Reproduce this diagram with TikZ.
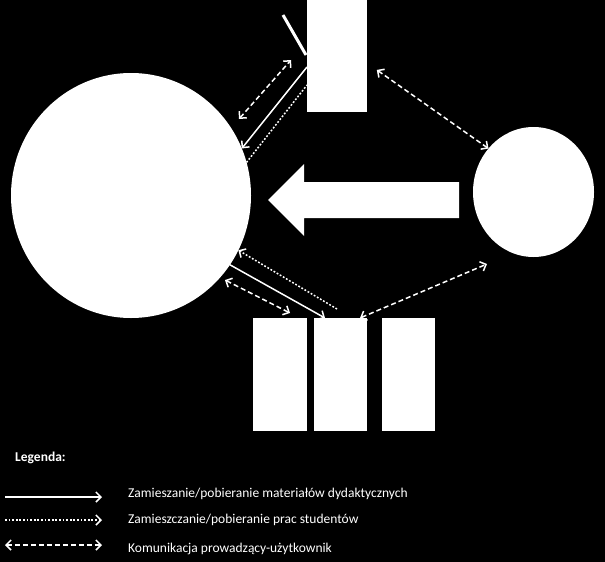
\documentclass[tikz,border=0pt]{standalone}
\usepackage{fontspec}
\setmainfont{Carlito}
\usetikzlibrary{arrows.meta,shapes.geometric}
\tikzstyle{blok} = [fill=white, draw=none, inner sep=0pt, outer sep=0pt]
\tikzstyle{upload} = [draw=white, line width=1.5pt, -{Straight Barb[length=5pt,width=10pt]}]
\tikzstyle{prace} = [upload, dash pattern=on 1.8pt off 1.8pt]
\tikzstyle{komunikacja} = [draw=white, line width=1.5pt, dash pattern=on 5pt off 3pt,
  {Straight Barb[length=5pt,width=10pt]}-{Straight Barb[length=5pt,width=10pt]}]
\tikzstyle{legtext} = [anchor=west, text=white, inner sep=0pt]
\tikzset{font={\fontsize{13.5}{16}\selectfont}}

\begin{document}
\begin{tikzpicture}[x=1pt, y=-1pt]
  \fill[black] (0,0) rectangle (605,562);

  \node[at={(131,195.5)}, blok, ellipse, minimum width=240pt, minimum height=245pt] (platforma) {};
  \node[at={(533.5,192)}, blok, ellipse, minimum width=121pt, minimum height=130pt] (uzytk) {};
  \node[at={(337,56)}, blok, minimum width=60pt, minimum height=112pt] (prowadzacy) {};
  \node[at={(280,374.5)}, blok, minimum width=54pt, minimum height=113pt] (zasob1) {};
  \node[at={(340.5,374.5)}, blok, minimum width=53pt, minimum height=113pt] (zasob2) {};
  \node[at={(408.5,374.5)}, blok, minimum width=53pt, minimum height=113pt] (zasob3) {};

  % duza strzalka
  \fill[white] (459,182) -- (304,182) -- (304,164) -- (268,200)
    -- (304,236) -- (304,218) -- (459,218) -- cycle;
  \draw[white, line width=3pt] (283,15) -- (306,55);

  \coordinate (k1) at (291,60);
  \coordinate (k2) at (239,119);
  \coordinate (k3) at (337,309);
  \coordinate (k4) at (225,280);
  \coordinate (k5) at (290,313);
  \coordinate (k6) at (487,264);

  \draw[komunikacja] (k2) -- (k1);
  \draw[upload] ([yshift=-11pt]prowadzacy.west) -- (platforma.23);
  \draw[prace, -] (platforma.16) -- ([yshift=-29pt]prowadzacy.west);
  \draw[komunikacja, shorten <=12pt] ([yshift=-7pt]prowadzacy.east) -- (uzytk.136);

  \draw[prace] (k3) -- (platforma.-27);
  \draw[upload] (platforma.-35) -- ([xshift=11pt]zasob2.north west);
  \draw[komunikacja] (k4) -- (k5);
  \draw[komunikacja] ([xshift=-7pt]zasob2.north east) -- (k6);

  % legenda
  \node[at={(15,458)}, legtext, font=\bfseries\fontsize{13.5}{16}\selectfont] (legenda) {Legenda:};
  \coordinate (l1a) at (5,497);  \coordinate (l1b) at (102,497);
  \coordinate (l2a) at (5,520);  \coordinate (l2b) at (102,520);
  \coordinate (l3a) at (5,545);  \coordinate (l3b) at (102,545);
  \draw[upload] (l1a) -- (l1b);
  \draw[prace] (l2a) -- (l2b);
  \draw[komunikacja] (l3a) -- (l3b);
  \node[at={(128,494)}, legtext] (opis1) {Zamieszanie/pobieranie materiałów dydaktycznych};
  \node[at={(128,520)}, legtext] (opis2) {Zamieszczanie/pobieranie prac studentów};
  \node[at={(128,549)}, legtext] (opis3) {Komunikacja prowadzący-użytkownik};

\end{tikzpicture}
\end{document}
